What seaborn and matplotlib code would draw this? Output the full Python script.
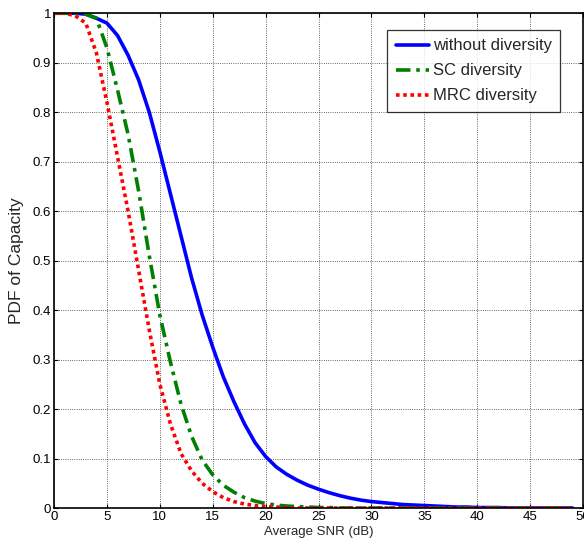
import numpy as np
import pandas as pd
import matplotlib
matplotlib.use("Agg")
import matplotlib.pyplot as plt
import seaborn as sns

# Average SNR (dB)
snr = np.arange(0, 50)

# PDF of capacity
without_div = [1, 1, 1, 0.998, 0.99, 0.98, 0.955, 0.915, 0.865, 0.80,
               0.72, 0.635, 0.55, 0.465, 0.39, 0.325, 0.265, 0.215, 0.17, 0.132,
               0.104, 0.083, 0.068, 0.056, 0.046, 0.038, 0.031, 0.025, 0.02, 0.016,
               0.013, 0.011, 0.009, 0.007, 0.006, 0.005, 0.004, 0.003, 0.002, 0.002,
               0.001, 0.001, 0.001, 0, 0, 0, 0, 0, 0, 0]
sc_div = [1, 1, 1, 0.998, 0.99, 0.93, 0.845, 0.755, 0.64, 0.51,
          0.39, 0.295, 0.21, 0.145, 0.097, 0.067, 0.046, 0.032, 0.021, 0.014,
          0.009, 0.006, 0.004, 0.003, 0.002, 0.001, 0.001, 0, 0, 0,
          0, 0, 0, 0, 0, 0, 0, 0, 0, 0,
          0, 0, 0, 0, 0, 0, 0, 0, 0, 0]
mrc_div = [1, 1, 0.995, 0.98, 0.92, 0.82, 0.71, 0.6, 0.48, 0.36,
           0.25, 0.17, 0.11, 0.075, 0.05, 0.033, 0.021, 0.013, 0.008, 0.005,
           0.003, 0.002, 0.001, 0, 0, 0, 0, 0, 0, 0,
           0, 0, 0, 0, 0, 0, 0, 0, 0, 0,
           0, 0, 0, 0, 0, 0, 0, 0, 0, 0]

sns.set_style("ticks")
plt.rcParams['font.family'] = ['Liberation Sans', 'DejaVu Sans']

fig = plt.figure(figsize=(5.84, 5.51), dpi=100)
ax = fig.add_axes([0.0925, 0.078, 0.906, 0.898])

sns.lineplot(x=snr, y=without_div, ax=ax, color='#0000ff', lw=2.6,
             label='without diversity')
sns.lineplot(x=snr, y=sc_div, ax=ax, color='#008000', lw=2.6,
             label='SC diversity')
sns.lineplot(x=snr, y=mrc_div, ax=ax, color='#ff0000', lw=2.6,
             label='MRC diversity')
ax.lines[1].set_dashes([4, 1.6, 1, 1.6])
ax.lines[2].set_dashes([1, 1])

ax.set_xlim(0, 50)
ax.set_ylim(0, 1)
ax.set_xticks(np.arange(0, 51, 5))
ax.set_yticks(np.arange(0, 1.01, 0.1))
ax.set_yticklabels(['0', '0.1', '0.2', '0.3', '0.4', '0.5', '0.6', '0.7', '0.8', '0.9', '1'])
ax.grid(True, color='black', linestyle=':', linewidth=0.6, alpha=0.8)
ax.tick_params(direction='in', top=True, right=True, labelsize=9.5, length=3,
               colors='black', pad=2)
for s in ax.spines.values():
    s.set_color('black')
    s.set_linewidth(1.2)

ax.set_xlabel('Average SNR (dB)', fontsize=9.5, labelpad=2)
ax.set_ylabel('PDF of Capacity', fontsize=12.5, labelpad=6)

leg = ax.legend(loc='upper right', bbox_to_anchor=(0.957, 0.966), fontsize=12,
                frameon=True, fancybox=False, edgecolor='black',
                borderaxespad=0, handlelength=2.0, borderpad=0.5,
                labelspacing=0.6, handletextpad=0.25)
leg.get_frame().set_linewidth(0.9)

fig.savefig('out.png', dpi=100)
